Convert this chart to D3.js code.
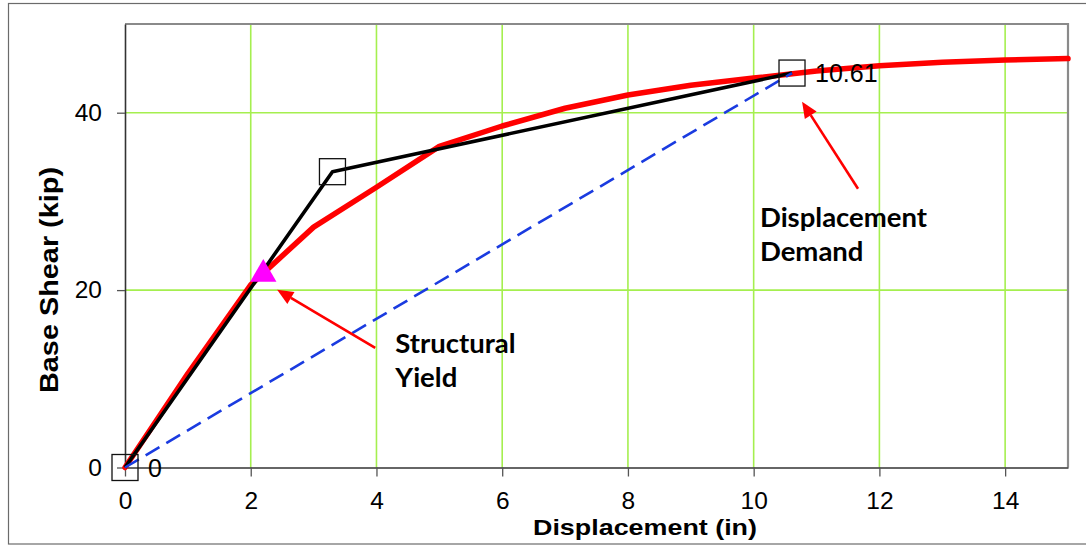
<!DOCTYPE html>
<html>
<head>
<meta charset="utf-8">
<script src="https://cdn.jsdelivr.net/npm/d3@7"></script>
<style>
  html, body { margin: 0; padding: 0; background: #fff; }
  svg { display: block; }
</style>
</head>
<body>
<svg id="chart" width="1086" height="545"></svg>
<script>
// Pushover capacity curve (displacement in inches, base shear in kips)
const capacityX = [0, 1, 2, 3, 4, 5, 6, 7, 8, 9, 10, 11, 12, 13, 14, 15];
const capacityY = [0, 10.6, 20.6, 27.1, 31.6, 36.2, 38.5, 40.5, 42.0, 43.1, 43.9, 44.7, 45.3, 45.7, 45.95, 46.1];

// Bilinear idealisation
const bilinearX = [0, 3.3, 10.61];
const bilinearY = [0, 33.35, 44.47];

// Secant line from origin to the performance point
const secantX = [0, 10.61];
const secantY = [0, 44.47];

// Labelled points (value label = displacement)
const labelledX = [0, 10.61];
const labelledY = [0, 44.47];

// Structural yield point
const yieldX = [2.2];
const yieldY = [21.8];

// Axis ticks
const xTicks = [0, 2, 4, 6, 8, 10, 12, 14];
const yTicks = [0, 20, 40];

// Callouts: text lines, text anchor and arrow (tail -> tip), all in data units
const calloutText = [["Structural", "Yield"], ["Displacement", "Demand"]];
const calloutTextX = [4.30, 10.10];
const calloutTextY = [12.92, 27.14];
const calloutTail = [[3.98, 13.48], [11.66, 31.42]];
const calloutTip = [[2.42, 20.03], [10.77, 41.24]];

const svg = d3.select("#chart");
const W = 1086, H = 545;

const x = d3.scaleLinear().domain([0, 15]).range([125, 1068]);
const y = d3.scaleLinear().domain([0, 50]).range([467.5, 24]);

// outer frame
svg.append("rect")
  .attr("x", 8.5).attr("y", 3.5)
  .attr("width", W).attr("height", 540.5)
  .attr("fill", "#fff").attr("stroke", "#6b6b6b").attr("stroke-width", 1.2);

// grid
const gridColor = "#a5ef4f";
svg.append("g").selectAll("line")
  .data(xTicks.filter(d => d > 0))
  .join("line")
  .attr("x1", d => x(d)).attr("x2", d => x(d))
  .attr("y1", y(50)).attr("y2", y(0))
  .attr("stroke", gridColor).attr("stroke-width", 1.6);
svg.append("g").selectAll("line")
  .data(yTicks.filter(d => d > 0))
  .join("line")
  .attr("x1", x(0)).attr("x2", x(15))
  .attr("y1", d => y(d)).attr("y2", d => y(d))
  .attr("stroke", gridColor).attr("stroke-width", 1.6);

// plot frame (top and right)
svg.append("path")
  .attr("d", `M${x(0)},${y(50)}H${x(15)}V${y(0)}`)
  .attr("fill", "none").attr("stroke", "#8a8a8a").attr("stroke-width", 2.2);

// axes
const tickFont = "'Liberation Sans', Arial, sans-serif";
const xAxis = svg.append("g")
  .attr("transform", `translate(0,${y(0)})`)
  .call(d3.axisBottom(x).tickValues(xTicks).tickFormat(d3.format("d"))
    .tickSize(9).tickSizeOuter(0).tickPadding(15));
const yAxis = svg.append("g")
  .attr("transform", `translate(${x(0)},0)`)
  .call(d3.axisLeft(y).tickValues(yTicks).tickFormat(d3.format("d"))
    .tickSize(8).tickSizeOuter(0).tickPadding(15));
[xAxis, yAxis].forEach(g => {
  g.select(".domain").attr("stroke", "#333").attr("stroke-width", 1.6);
  g.selectAll(".tick line").attr("stroke", "#555").attr("stroke-width", 1.3);
  g.selectAll(".tick text")
    .attr("font-family", tickFont).attr("font-size", 24.5).attr("fill", "#000");
});

// series
const line = d3.line().x(d => x(d[0])).y(d => y(d[1]));

svg.append("path")
  .datum(capacityX.map((d, i) => [d, capacityY[i]]))
  .attr("d", line)
  .attr("fill", "none").attr("stroke", "#ff0000").attr("stroke-width", 5.5)
  .attr("stroke-linejoin", "round").attr("stroke-linecap", "round");

svg.append("path")
  .datum(bilinearX.map((d, i) => [d, bilinearY[i]]))
  .attr("d", line)
  .attr("fill", "none").attr("stroke", "#000").attr("stroke-width", 3.6)
  .attr("stroke-linejoin", "round");

svg.append("path")
  .datum(secantX.map((d, i) => [d, secantY[i]]))
  .attr("d", line)
  .attr("fill", "none").attr("stroke", "#1a3be0").attr("stroke-width", 2.6)
  .attr("stroke-dasharray", "16,8");

// square markers on the bilinear curve
const sq = 26;
svg.append("g").selectAll("rect")
  .data(bilinearX.map((d, i) => [d, bilinearY[i]]))
  .join("rect")
  .attr("x", d => x(d[0]) - sq / 2).attr("y", d => y(d[1]) - sq / 2)
  .attr("width", sq).attr("height", sq)
  .attr("fill", "none").attr("stroke", "#111").attr("stroke-width", 1.3);

// value labels
svg.append("g").selectAll("text")
  .data(labelledX.map((d, i) => [d, labelledY[i]]))
  .join("text")
  .attr("x", d => x(d[0]) + sq / 2 + 10)
  .attr("y", d => y(d[1]))
  .attr("dy", "0.36em")
  .attr("font-family", tickFont).attr("font-size", 25).attr("fill", "#000")
  .text(d => d3.format("~g")(d[0]));

// yield marker
const tri = d3.symbol().type(d3.symbolTriangle).size(300);
svg.append("g").selectAll("path")
  .data(yieldX.map((d, i) => [d, yieldY[i]]))
  .join("path")
  .attr("transform", d => `translate(${x(d[0])},${y(d[1])})`)
  .attr("d", tri)
  .attr("fill", "#ff00ff");

// callouts
const calloutFont = "Lato, 'Open Sans', sans-serif";
calloutText.forEach((lines, i) => {
  const t = svg.append("text")
    .attr("font-family", calloutFont).attr("font-weight", 700)
    .attr("font-size", 27.5).attr("fill", "#000");
  lines.forEach((s, j) => {
    t.append("tspan")
      .attr("x", x(calloutTextX[i]))
      .attr("y", y(calloutTextY[i]) + j * 34)
      .text(s);
  });

  const [tx0, ty0] = [x(calloutTail[i][0]), y(calloutTail[i][1])];
  const [tx1, ty1] = [x(calloutTip[i][0]), y(calloutTip[i][1])];
  const ang = Math.atan2(ty1 - ty0, tx1 - tx0);
  const headLen = 16, headW = 7;
  const bx = tx1 - headLen * Math.cos(ang), by = ty1 - headLen * Math.sin(ang);
  svg.append("line")
    .attr("x1", tx0).attr("y1", ty0).attr("x2", bx).attr("y2", by)
    .attr("stroke", "#ff0000").attr("stroke-width", 2.6);
  const px = -Math.sin(ang), py = Math.cos(ang);
  svg.append("path")
    .attr("d", `M${tx1},${ty1}L${bx + headW * px},${by + headW * py}L${bx - headW * px},${by - headW * py}Z`)
    .attr("fill", "#ff0000");
});

// axis titles
svg.append("text")
  .attr("x", 533).attr("y", 535)
  .attr("textLength", 224).attr("lengthAdjust", "spacingAndGlyphs")
  .attr("font-family", tickFont).attr("font-weight", 700).attr("font-size", 22.5)
  .text("Displacement (in)");

svg.append("text")
  .attr("transform", `translate(58,393) rotate(-90)`)
  .attr("textLength", 226).attr("lengthAdjust", "spacingAndGlyphs")
  .attr("font-family", tickFont).attr("font-weight", 700).attr("font-size", 25)
  .text("Base Shear (kip)");
</script>
</body>
</html>
